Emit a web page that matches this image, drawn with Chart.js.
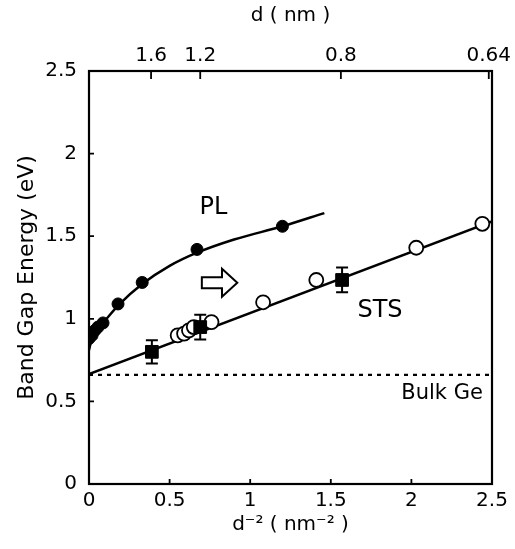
<!DOCTYPE html>
<html><head><meta charset="utf-8">
<script src="https://cdn.jsdelivr.net/npm/chart.js@4"></script>
<style>html,body{margin:0;padding:0;background:#fff}#wrap{width:515px;height:549px}</style>
</head><body>
<div id="wrap"><canvas id="c"></canvas></div>
<script>
// ---- data ----
const plX = [0, 0.019, 0.037, 0.056, 0.087, 0.18, 0.33, 0.67, 1.20];
const plY = [0.88, 0.90, 0.93, 0.95, 0.975, 1.09, 1.22, 1.42, 1.56];
const plCurveX = [0, 0.02, 0.05, 0.1, 0.18, 0.33, 0.5, 0.67, 0.9, 1.2, 1.46];
const plCurveY = [0.81, 0.89, 0.94, 0.99, 1.08, 1.21, 1.32, 1.40, 1.48, 1.56, 1.64];
const stsOpenX = [0.55, 0.59, 0.62, 0.65, 0.76, 1.08, 1.41, 2.03, 2.44];
const stsOpenY = [0.90, 0.91, 0.93, 0.95, 0.98, 1.10, 1.235, 1.43, 1.575];
const stsSqX = [0.39, 0.69, 1.57];
const stsSqY = [0.80, 0.95, 1.235];
const stsSqErr = [0.07, 0.075, 0.075];
const stsLineX = [0, 2.5];
const stsLineY = [0.665, 1.59];
const bulkGeX = [0, 2.5];
const bulkGeY = [0.66, 0.66];
const xTicks = [0, 0.5, 1, 1.5, 2, 2.5];
const yTicks = [0, 0.5, 1, 1.5, 2, 2.5];
const topTickPos = [0.385, 0.69, 1.5625, 2.48];
const topTickLabels = ['1.6', '1.2', '0.8', '0.64'];
const labelTexts = ['PL', 'STS', 'Bulk Ge'];
const labelX = [0.772, 1.805, 2.19];
const labelY = [1.67, 1.047, 0.548];
const arrowX = [0.70, 0.825, 0.92];
const arrowY = 1.218;

const pts = (xs, ys) => xs.map((x, i) => ({x, y: ys[i]}));
const FONT = "'DejaVu Sans', sans-serif";

const decor = {
  id: 'decor',
  afterDatasetsDraw(chart) {
    const {ctx, chartArea: a, scales} = chart;
    const xs = scales.x, ys = scales.y;
    ctx.save();
    ctx.strokeStyle = '#000';
    ctx.fillStyle = '#000';
    // error bars
    ctx.lineWidth = 2;
    stsSqX.forEach((x, i) => {
      const px = xs.getPixelForValue(x);
      const y1 = ys.getPixelForValue(stsSqY[i] + stsSqErr[i]);
      const y2 = ys.getPixelForValue(stsSqY[i] - stsSqErr[i]);
      ctx.beginPath();
      ctx.moveTo(px, y1); ctx.lineTo(px, y2);
      ctx.moveTo(px - 6, y1); ctx.lineTo(px + 6, y1);
      ctx.moveTo(px - 6, y2); ctx.lineTo(px + 6, y2);
      ctx.stroke();
    });
    // frame
    ctx.lineWidth = 2.2;
    ctx.strokeRect(a.left, a.top, a.right - a.left, a.bottom - a.top);
    // inward ticks
    ctx.lineWidth = 1.8;
    ctx.beginPath();
    xTicks.slice(1, -1).forEach(v => {
      const px = xs.getPixelForValue(v);
      ctx.moveTo(px, a.bottom); ctx.lineTo(px, a.bottom - 5);
    });
    yTicks.slice(1, -1).forEach(v => {
      const py = ys.getPixelForValue(v);
      ctx.moveTo(a.left, py); ctx.lineTo(a.left + 5, py);
    });
    topTickPos.forEach(v => {
      const px = xs.getPixelForValue(v);
      ctx.moveTo(px, a.top); ctx.lineTo(px, a.top + 8);
    });
    ctx.stroke();
    // text labels
    ctx.textAlign = 'center';
    ctx.textBaseline = 'middle';
    labelTexts.forEach((t, i) => {
      ctx.font = (t === 'Bulk Ge' ? '21px ' : '24px ') + FONT;
      ctx.fillText(t, xs.getPixelForValue(labelX[i]), ys.getPixelForValue(labelY[i]));
    });
    // open block arrow
    const x0 = xs.getPixelForValue(arrowX[0]);
    const xh = xs.getPixelForValue(arrowX[1]);
    const x1 = xs.getPixelForValue(arrowX[2]);
    const yc = ys.getPixelForValue(arrowY);
    const bh = 5.5, hh = 14;
    ctx.beginPath();
    ctx.moveTo(x0, yc - bh);
    ctx.lineTo(xh, yc - bh);
    ctx.lineTo(xh, yc - hh);
    ctx.lineTo(x1, yc);
    ctx.lineTo(xh, yc + hh);
    ctx.lineTo(xh, yc + bh);
    ctx.lineTo(x0, yc + bh);
    ctx.closePath();
    ctx.fillStyle = '#fff';
    ctx.fill();
    ctx.lineWidth = 2;
    ctx.stroke();
    ctx.restore();
  }
};

new Chart(document.getElementById('c'), {
  type: 'scatter',
  data: {
    datasets: [
      { label: 'PL', data: pts(plX, plY), pointStyle: 'circle', pointRadius: 6,
        backgroundColor: '#000', borderColor: '#000', borderWidth: 1, showLine: false, order: 0 },
      { label: 'STS squares', data: pts(stsSqX, stsSqY), pointStyle: 'rect', pointRadius: 9,
        backgroundColor: '#000', borderColor: '#000', borderWidth: 1, showLine: false, order: 0 },
      { label: 'STS open', data: pts(stsOpenX, stsOpenY), pointStyle: 'circle', pointRadius: 7,
        backgroundColor: '#fff', borderColor: '#000', borderWidth: 1.8, showLine: false, order: 1 },
      { label: 'PL fit', data: pts(plCurveX, plCurveY), showLine: true, pointRadius: 0,
        borderColor: '#000', borderWidth: 2.5, cubicInterpolationMode: 'monotone', order: 2 },
      { label: 'STS fit', data: pts(stsLineX, stsLineY), showLine: true, pointRadius: 0,
        borderColor: '#000', borderWidth: 2.5, order: 2 },
      { label: 'Bulk Ge', data: pts(bulkGeX, bulkGeY), showLine: true, pointRadius: 0,
        borderColor: '#000', borderWidth: 2.2, borderDash: [4, 5], order: 3 }
    ]
  },
  options: {
    responsive: true,
    maintainAspectRatio: false,
    animation: false,
    layout: { padding: { left: 0, right: 23, top: 0, bottom: 0 } },
    plugins: { legend: { display: false }, tooltip: { enabled: false } },
    scales: {
      x: {
        type: 'linear', position: 'bottom', min: 0, max: 2.5,
        grid: { display: false, drawTicks: false }, border: { display: false },
        afterBuildTicks: s => { s.ticks = xTicks.map(v => ({value: v})); },
        afterFit: s => { s.height = 65; s.paddingLeft = 0; s.paddingRight = 0; },
        ticks: { color: '#000', padding: 5, maxRotation: 0, autoSkip: false,
          font: { family: FONT, size: 20 }, callback: v => String(v) },
        title: { display: true, text: 'd\u207B\u00B2 ( nm\u207B\u00B2 )', color: '#000',
          font: { family: FONT, size: 20 }, padding: { top: 0, bottom: 12 } }
      },
      x2: {
        type: 'linear', position: 'top', min: 0, max: 2.5,
        grid: { display: false, drawTicks: false }, border: { display: false },
        afterBuildTicks: s => { s.ticks = topTickPos.map(v => ({value: v})); },
        afterFit: s => { s.height = 71; s.paddingLeft = 0; s.paddingRight = 0; },
        ticks: { color: '#000', padding: 3, maxRotation: 0, autoSkip: false,
          font: { family: FONT, size: 20 },
          callback: (v, i) => topTickLabels[i] },
        title: { display: true, text: 'd ( nm )', color: '#000',
          font: { family: FONT, size: 20 }, padding: { top: 4, bottom: 0 } }
      },
      y: {
        type: 'linear', position: 'left', min: 0, max: 2.5,
        grid: { display: false, drawTicks: false }, border: { display: false },
        afterBuildTicks: s => { s.ticks = yTicks.map(v => ({value: v})); },
        afterFit: s => { s.width = 89; s.paddingTop = 0; s.paddingBottom = 0; },
        ticks: { color: '#000', padding: 12, autoSkip: false,
          font: { family: FONT, size: 20 }, callback: v => String(v) },
        title: { display: true, text: 'Band Gap Energy (eV)', color: '#000',
          font: { family: FONT, size: 22 }, padding: { top: 14, bottom: 0 } }
      }
    }
  },
  plugins: [decor]
});
</script>
</body></html>
